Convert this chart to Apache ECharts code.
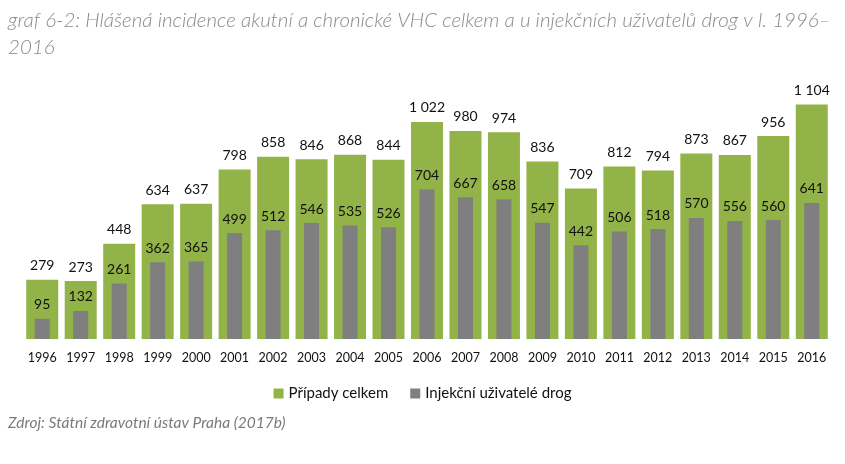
<!DOCTYPE html>
<html><head><meta charset="utf-8">
<script src="https://cdn.jsdelivr.net/npm/echarts@6/dist/echarts.min.js"></script>
<style>html,body{margin:0;padding:0;background:#fff}#c{width:845px;height:464px}</style>
</head><body><div id="c"></div>
<script>
const years = ['1996','1997','1998','1999','2000','2001','2002','2003','2004','2005','2006','2007','2008','2009','2010','2011','2012','2013','2014','2015','2016'];
const totalCases = [279,273,448,634,637,798,858,846,868,844,1022,980,974,836,709,812,794,873,867,956,1104];
const iduCases = [95,132,261,362,365,499,512,546,535,526,704,667,658,547,442,506,518,570,556,560,641];
const seriesNames = ['Případy celkem','Injekční uživatelé drog'];
const titleText = 'graf 6-2: Hlášená incidence akutní a chronické VHC celkem a u injekčních uživatelů drog v l. 1996–\n2016';
const sourceText = 'Zdroj: Státní zdravotní ústav Praha (2017b)';

const fmt = p => String(p.value).replace(/\B(?=(\d{3})+(?!\d))/g, ' ');
const FONT = 'Lato, "Open Sans", sans-serif';
const chart = echarts.init(document.getElementById('c'));
chart.setOption({
  animation: false,
  textStyle: {fontFamily: FONT},
  graphic: [
    {type:'text', left: 8, top: 7, style:{text: titleText, fontFamily: FONT, fontStyle:'italic', fontWeight: 300, fontSize: 20.5, lineHeight: 27, fill:'#8a8a8a'}},
    {type:'text', left: 8, top: 415, style:{text: sourceText, fontFamily: FONT, fontStyle:'italic', fontSize: 15.5, fill:'#7a7a7a'}}
  ],
  legend: {
    data: seriesNames, top: 381, left: 'center', itemWidth: 10, itemHeight: 10, itemGap: 22,
    icon: 'rect', textStyle: {fontSize: 15, color:'#111', fontFamily: FONT}
  },
  grid: {left: 23, right: 14, top: 81, bottom: 125},
  xAxis: [
    {type:'category', data: years, axisLine:{show:false}, axisTick:{show:false},
     axisLabel:{interval: 0, fontSize: 12.5, color:'#111', margin: 12, fontFamily: FONT}},
    {type:'category', data: years, show:false}
  ],
  yAxis: {type:'value', min:0, max:1215, show:false, splitLine:{show:false}},
  series: [
    {name: seriesNames[0], type:'bar', xAxisIndex:0, data: totalCases, barWidth: 32,
     itemStyle:{color:'#92b347'},
     label:{show:true, position:'top', distance: 7, formatter: fmt, fontSize: 14, color:'#111', fontFamily: FONT}},
    {name: seriesNames[1], type:'bar', xAxisIndex:1, data: iduCases, barWidth: 15,
     itemStyle:{color:'#7f7f7f'},
     label:{show:true, position:'top', distance: 7, formatter: fmt, fontSize: 14, color:'#111', fontFamily: FONT}}
  ]
});
</script></body></html>
